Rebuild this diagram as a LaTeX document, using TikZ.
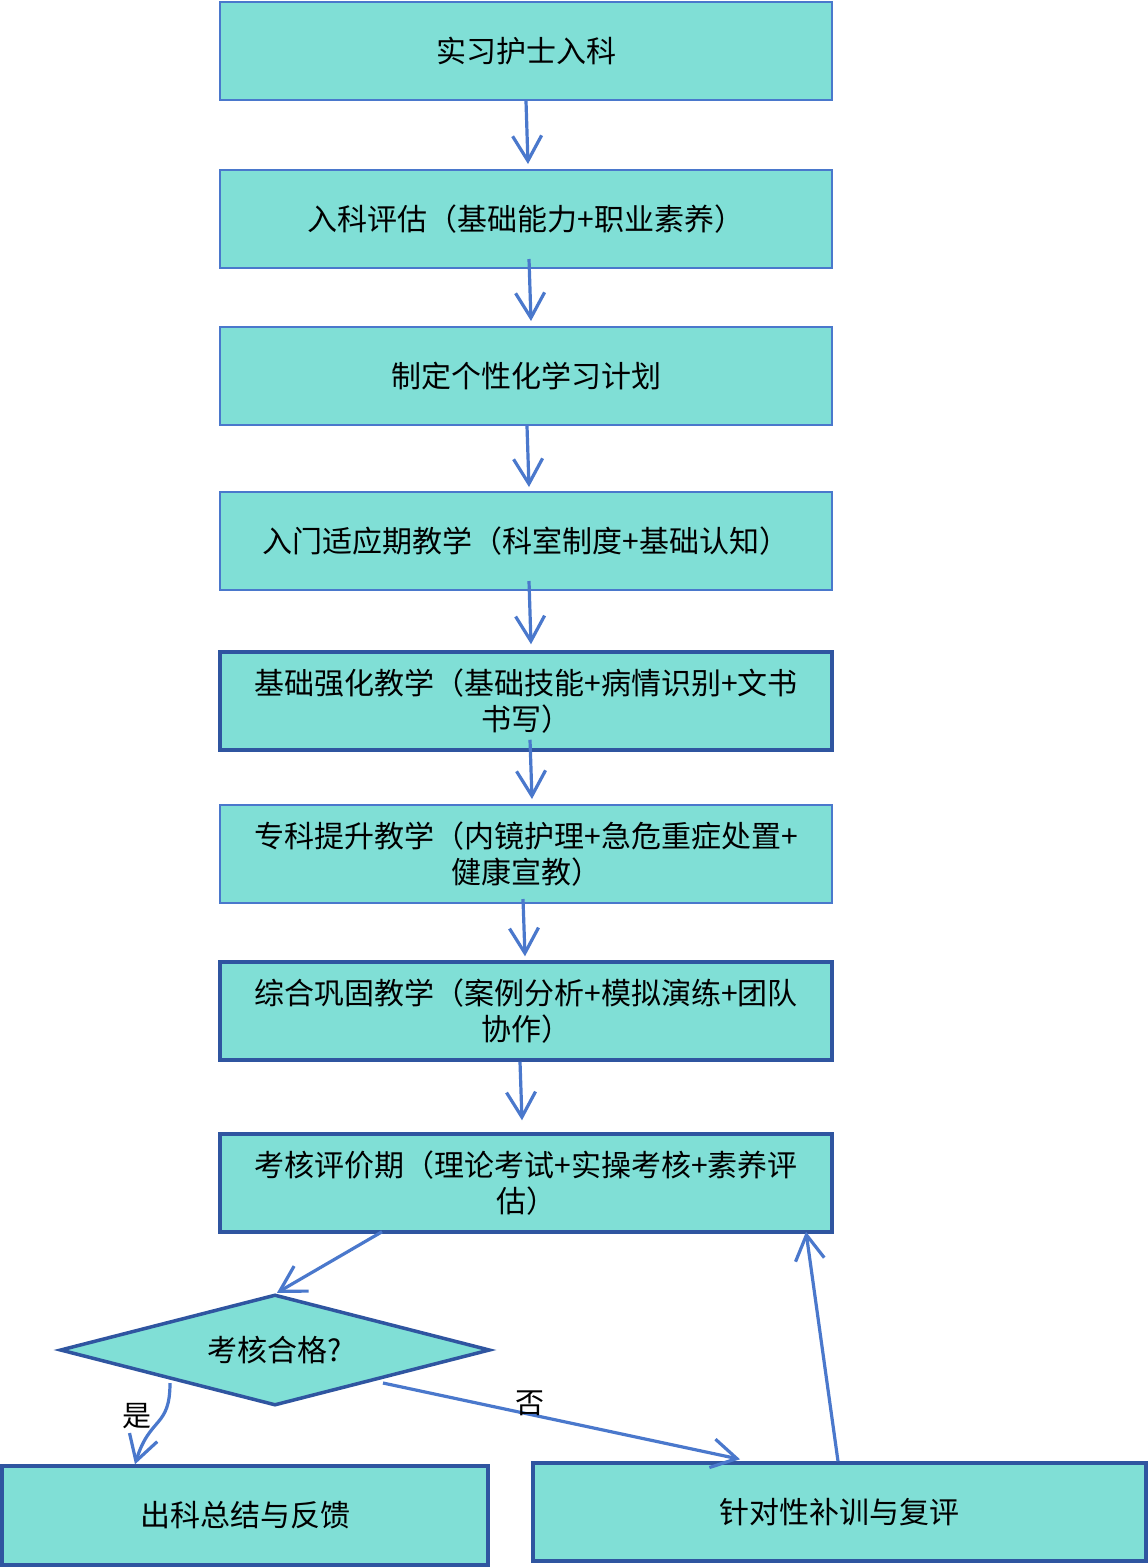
\documentclass[tikz,border=0pt]{standalone}
\usepackage{fontspec}
\setmainfont{Noto Sans CJK SC}
\usetikzlibrary{arrows.meta,shapes.geometric,calc}
\definecolor{fillc}{HTML}{80DFD6}
\definecolor{thinb}{HTML}{4A78CC}
\definecolor{thickb}{HTML}{2F55A0}
\definecolor{arrc}{HTML}{4A78CC}
\begin{document}
\begin{tikzpicture}[x=1pt,y=-1pt,
  box/.style={rectangle, fill=fillc, draw=thinb, line width=2pt, minimum width=612pt, minimum height=98pt, inner sep=0pt, align=center, font=\fontsize{30}{36}\selectfont},
  boxthick/.style={box, draw=thickb, line width=3.5pt},
  arr/.style={draw=arrc, line width=3.2pt, -{Straight Barb[length=25pt,width=29pt]}},
  lbl/.style={font=\fontsize{29}{32}\selectfont, inner sep=0pt}]
\useasboundingbox (0,0) rectangle (1148,1567);
\fill[white] (0,0) rectangle (1148,1567);

\node[box] (b1) at (526,51) {实习护士入科};
\node[box] (b2) at (526,219) {入科评估（基础能力+职业素养）};
\node[box] (b3) at (526,376) {制定个性化学习计划};
\node[box] (b4) at (526,541) {入门适应期教学（科室制度+基础认知）};
\node[boxthick] (b5) at (526,701) {基础强化教学（基础技能+病情识别+文书\\书写）};
\node[box] (b6) at (526,854) {专科提升教学（内镜护理+急危重症处置+\\健康宣教）};
\node[boxthick] (b7) at (526,1011) {综合巩固教学（案例分析+模拟演练+团队\\协作）};
\node[boxthick] (b8) at (526,1183) {考核评价期（理论考试+实操考核+素养评\\估）};
\node[diamond, shape aspect=3.87, fill=fillc, draw=thickb, line width=3.5pt, minimum width=430pt, minimum height=111pt, inner sep=0pt, font=\fontsize{30}{36}\selectfont] (d) at (275,1350) {考核合格?};
\node[boxthick, minimum width=486pt, minimum height=99pt] (b9) at (245,1515.5) {出科总结与反馈};
\node[boxthick, minimum width=613pt] (b10) at (839.5,1512) {针对性补训与复评};

\draw[arr] (b1.south) -- ([xshift=2pt,yshift=5pt]b2.north);
\draw[arr] ([xshift=3pt,yshift=10pt]b2.south) -- ([xshift=5pt,yshift=5pt]b3.north);
\draw[arr] ([xshift=1pt]b3.south) -- ([xshift=3pt,yshift=4pt]b4.north);
\draw[arr] ([xshift=3pt,yshift=10pt]b4.south) -- ([xshift=5pt,yshift=6pt]b5.north);
\draw[arr] ([xshift=4pt,yshift=12pt]b5.south) -- ([xshift=6pt,yshift=5pt]b6.north);
\draw[arr] ([xshift=-3pt,yshift=5pt]b6.south) -- ([xshift=-1pt,yshift=4pt]b7.north);
\draw[arr] ([xshift=-6pt]b7.south) -- ([xshift=-4pt,yshift=12pt]b8.north);
\draw[arr] ([xshift=-144pt,yshift=2pt]b8.south) -- ([xshift=2pt]d.north);
\draw[arr] ([xshift=-105pt,yshift=-33pt]d.center) .. controls ([xshift=-105pt,yshift=-78pt]d.center) and ([xshift=-125pt,yshift=-66pt]d.center) .. ([xshift=-110pt]b9.north);
\draw[arr] ([xshift=108pt,yshift=-33pt]d.center) -- ([xshift=-99.5pt,yshift=2pt]b10.north);
\draw[arr] ([xshift=-1.5pt]b10.north) -- ([xshift=280pt,yshift=2pt]b8.south);

\node[lbl] (yes) at (137,1416) {是};
\node[lbl] (no) at (530,1403) {否};
\end{tikzpicture}
\end{document}
